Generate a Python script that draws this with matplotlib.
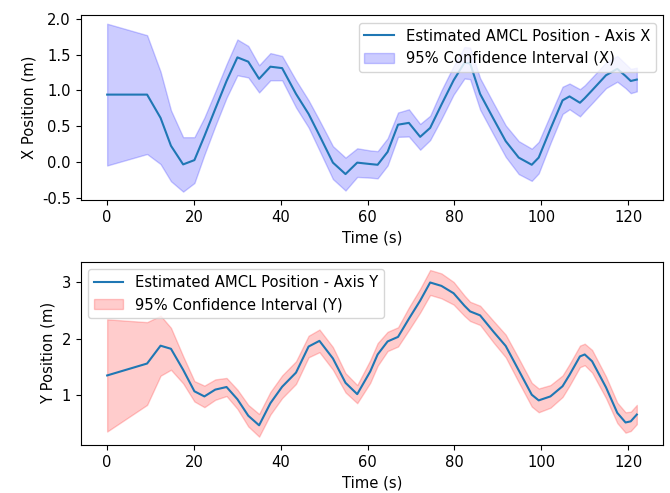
import numpy as np
import matplotlib
matplotlib.use("Agg")
import matplotlib.pyplot as plt

# time stamps (s)
t = [0, 9.2, 12.3, 14.7, 17.5, 20.1, 22.4, 24.9, 27.5, 30.0, 32.5, 35.0,
     37.6, 40.3, 43.5, 46.4, 48.9, 52.0, 54.9, 57.6, 60.6, 62.3, 64.6, 67.0,
     69.5, 72.1, 74.4, 77.0, 79.8, 82.3, 83.6, 85.9, 89.0, 91.8, 94.8, 97.8,
     99.4, 102.1, 104.9, 106.5, 108.9, 110.0, 111.7, 114.9, 117.5, 119.4,
     120.6, 122.0]

# estimated x position (m) and half width of the 95% interval
x_mean = [0.94, 0.94, 0.615, 0.225, -0.035, 0.025, 0.36, 0.74, 1.13, 1.46,
          1.40, 1.16, 1.33, 1.31, 0.95, 0.67, 0.37, -0.01, -0.17, -0.01,
          -0.03, -0.04, 0.14, 0.52, 0.545, 0.35, 0.475, 0.80, 1.14, 1.385,
          1.376, 0.95, 0.60, 0.29, 0.06, -0.04, 0.06, 0.46, 0.86, 0.915,
          0.826, 0.89, 1.00, 1.21, 1.30, 1.20, 1.13, 1.15]
x_hw = [0.99, 0.83, 0.645, 0.495, 0.38, 0.32, 0.26, 0.24, 0.235, 0.25, 0.22,
        0.19, 0.19, 0.17, 0.19, 0.19, 0.21, 0.23, 0.23, 0.20, 0.19, 0.19,
        0.19, 0.17, 0.19, 0.18, 0.17, 0.20, 0.20, 0.22, 0.22, 0.22, 0.22,
        0.22, 0.23, 0.225, 0.22, 0.20, 0.19, 0.18, 0.19, 0.18, 0.18, 0.18,
        0.18, 0.17, 0.17, 0.165]

# estimated y position (m) and half width of the 95% interval
y_mean = [1.35, 1.56, 1.875, 1.82, 1.45, 1.07, 0.98, 1.10, 1.146, 0.93,
          0.64, 0.47, 0.86, 1.15, 1.40, 1.86, 1.96, 1.65, 1.22, 1.02, 1.42,
          1.72, 1.95, 2.03, 2.35, 2.67, 2.99, 2.93, 2.80, 2.58, 2.48, 2.41,
          2.12, 1.87, 1.44, 1.01, 0.91, 0.98, 1.16, 1.36, 1.686, 1.72, 1.60,
          1.14, 0.69, 0.52, 0.54, 0.66]
y_hw = [0.99, 0.73, 0.53, 0.37, 0.24, 0.18, 0.19, 0.18, 0.16, 0.17, 0.19,
        0.20, 0.20, 0.20, 0.20, 0.19, 0.20, 0.20, 0.17, 0.16, 0.20, 0.20,
        0.17, 0.17, 0.20, 0.21, 0.22, 0.22, 0.20, 0.18, 0.17, 0.17, 0.19,
        0.20, 0.21, 0.21, 0.21, 0.20, 0.19, 0.19, 0.19, 0.19, 0.20, 0.19,
        0.18, 0.18, 0.17, 0.17]

t = np.array(t)
x_mean, x_hw = np.array(x_mean), np.array(x_hw)
y_mean, y_hw = np.array(y_mean), np.array(y_hw)

plt.rcParams['font.size'] = 10.6
plt.rcParams['axes.unicode_minus'] = False

fig = plt.figure(figsize=(6.7, 4.93), dpi=100)
ax1 = fig.add_axes([0.1204, 0.5943, 0.8696, 0.3746])
ax2 = fig.add_axes([0.1204, 0.0974, 0.8696, 0.3718])

# X axis
ax1.plot(t, x_mean, color='#1f77b4', label='Estimated AMCL Position - Axis X')
ax1.fill_between(t, x_mean - x_hw, x_mean + x_hw, color='blue', alpha=0.2,
                 label='95% Confidence Interval (X)')
ax1.set_xlabel('Time (s)')
ax1.set_ylabel('X Position (m)')
ax1.legend(loc='upper right')

# Y axis
ax2.plot(t, y_mean, color='#1f77b4', label='Estimated AMCL Position - Axis Y')
ax2.fill_between(t, y_mean - y_hw, y_mean + y_hw, color='red', alpha=0.2,
                 label='95% Confidence Interval (Y)')
ax2.set_xlabel('Time (s)')
ax2.set_ylabel('Y Position (m)')
ax2.legend(loc='upper left')

fig.savefig('out.png', dpi=100)
